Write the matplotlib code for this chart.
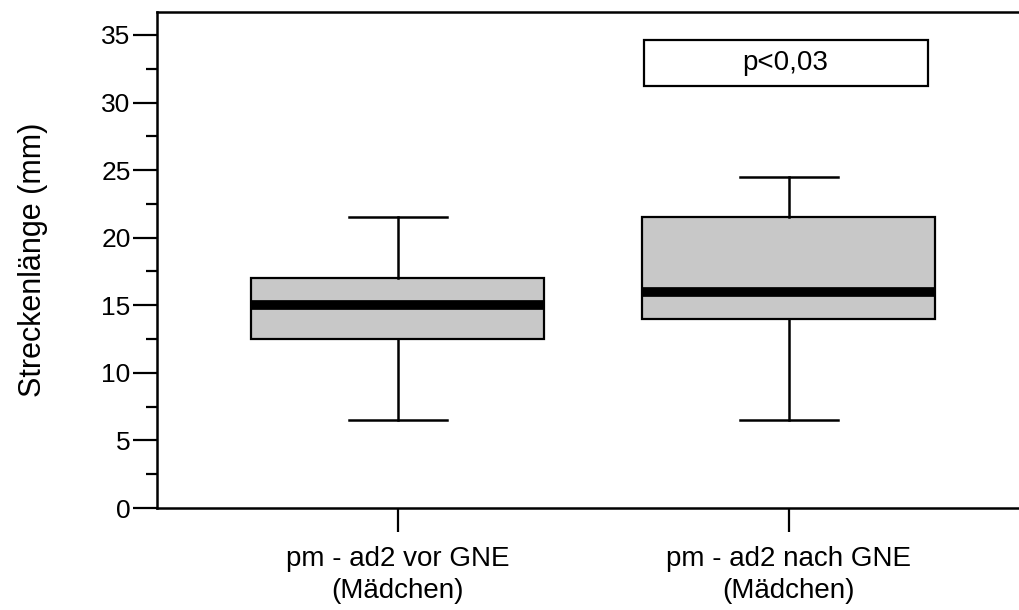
import matplotlib
matplotlib.use('Agg')
import matplotlib.pyplot as plt
from matplotlib.ticker import MultipleLocator
from matplotlib.patches import Rectangle

plt.rcParams['font.family'] = ['Liberation Sans', 'DejaVu Sans']

# Werte
labels = ['pm - ad2 vor GNE\n(Mädchen)', 'pm - ad2 nach GNE\n(Mädchen)']
whislo = [6.5, 6.5]
q1 = [12.5, 14.0]
med = [15.0, 16.0]
q3 = [17.0, 21.5]
whishi = [21.5, 24.5]
p_text = 'p<0,03'

stats = []
for i in range(len(labels)):
    stats.append(dict(label=labels[i], whislo=whislo[i], q1=q1[i], med=med[i],
                      q3=q3[i], whishi=whishi[i], fliers=[]))

fig = plt.figure(figsize=(10.2, 6.1), dpi=100)
# rechte Kante liegt ausserhalb des Bildes (keine rechte Achsenlinie sichtbar)
ax = fig.add_axes([157 / 1020, 1 - 508 / 610, 880 / 1020, 496 / 610])

ax.bxp(stats, positions=[1, 2], widths=0.75, patch_artist=True, showfliers=False,
       boxprops=dict(facecolor='#c8c8c8', edgecolor='black', linewidth=1.6),
       medianprops=dict(color='black', linewidth=7, solid_capstyle='butt'),
       whiskerprops=dict(color='black', linewidth=1.8),
       capprops=dict(color='black', linewidth=1.8), capwidths=0.25)

# p-Wert Kasten
ax.add_patch(Rectangle((1.63, 31.2), 0.725, 3.4, facecolor='white', edgecolor='black',
                       linewidth=1.6, zorder=4))
ax.text(1.99, 32.9, p_text, ha='center', va='center', fontsize=20, zorder=5)

ax.set_xlim(0.384, 2.635)
ax.set_ylim(0, 36.7)
ax.yaxis.set_major_locator(MultipleLocator(5))
ax.yaxis.set_minor_locator(MultipleLocator(2.5))
ax.tick_params(axis='both', which='major', length=17, width=1.6, direction='out')
ax.tick_params(axis='y', which='major', labelsize=19, pad=2)
ax.tick_params(axis='x', which='major', pad=10)
ax.tick_params(axis='y', which='minor', length=8, width=1.6)
ax.set_xticks([1, 2])
ax.set_xticklabels(labels, fontsize=20, linespacing=1.35)
ax.spines['right'].set_visible(False)
for s in ax.spines.values():
    s.set_linewidth(1.8)
ax.set_ylabel('Streckenlänge (mm)', fontsize=22, labelpad=38)

fig.savefig('out.png', dpi=100)
